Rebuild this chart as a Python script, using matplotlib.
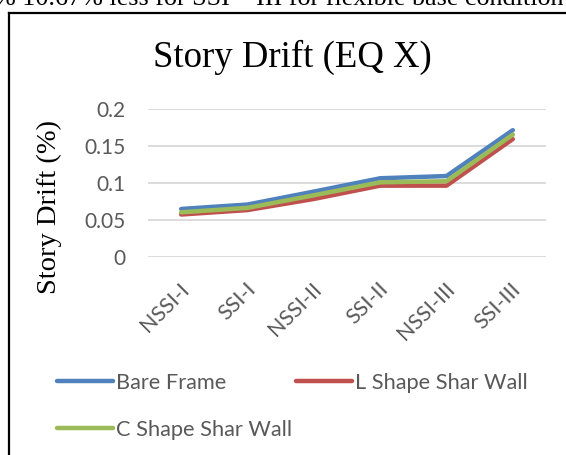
import matplotlib
matplotlib.use("Agg")
import matplotlib.pyplot as plt
from matplotlib.lines import Line2D
from matplotlib.transforms import ScaledTranslation

# data
categories = ["NSSI-I", "SSI-I", "NSSI-II", "SSI-II", "NSSI-III", "SSI-III"]
bare_frame = [0.0645, 0.0705, 0.088, 0.106, 0.109, 0.171]
l_shape = [0.057, 0.063, 0.078, 0.096, 0.096, 0.159]
c_shape = [0.060, 0.066, 0.083, 0.1005, 0.102, 0.165]
y_ticks = [0, 0.05, 0.1, 0.15, 0.2]
y_tick_labels = ["0", "0.05", "0.1", "0.15", "0.2"]

W, H = 566, 455
fig = plt.figure(figsize=(W / 100, H / 100), dpi=100)

# plot area in pixels: x 148..546, y 108.7..256.7
ax = fig.add_axes([148 / W, 1 - 256.7 / H, 398 / W, 148 / H])

xs = list(range(len(categories)))
lw = 3.2
h_bare, = ax.plot(xs, bare_frame, color="#4f81bd", lw=lw, solid_capstyle="round", label="Bare Frame")
h_l, = ax.plot(xs, l_shape, color="#c0504d", lw=lw, solid_capstyle="round", label="L Shape Shar Wall")
h_c, = ax.plot(xs, c_shape, color="#9bbb59", lw=lw, solid_capstyle="round", label="C Shape Shar Wall")

ax.set_xlim(-0.5, len(categories) - 0.5)
ax.set_ylim(0, 0.2)
ax.set_yticks(y_ticks)
ax.set_yticklabels(y_tick_labels)
ax.set_xticks(xs)
ax.set_xticklabels(categories, rotation=45, ha="right", va="center", rotation_mode="anchor")

for s in ax.spines.values():
    s.set_visible(False)
ax.grid(axis="y", color="#d9d9d9", lw=1.3)
ax.set_axisbelow(True)

tick_font = "Lato"
ax.tick_params(axis="y", length=0, pad=16, labelsize=15, labelcolor="#595959")
ax.tick_params(axis="x", length=0, pad=21, labelsize=15.5, labelcolor="#595959")
for lbl in ax.get_yticklabels() + ax.get_xticklabels():
    lbl.set_family(tick_font)
for lbl in ax.get_xticklabels():
    lbl.set_transform(lbl.get_transform() + ScaledTranslation(5 / 100, 0, fig.dpi_scale_trans))

ax.set_ylabel("Story Drift (%)", family="Liberation Serif", fontsize=20.5, color="black")
ax.yaxis.set_label_coords(-0.216, 0.339)

fig.text(292 / W, 1 - 66.5 / H, "Story Drift (EQ X)", family="Liberation Serif",
         fontsize=26.5, ha="center", va="baseline")

# legend: two entries on the first row, one on the second
leg_kw = dict(frameon=False, prop={"family": tick_font, "size": 15.7}, borderpad=0,
              borderaxespad=0, handlelength=2.55, handletextpad=0.16)
leg1 = fig.legend([h_bare, h_l], ["Bare Frame", "L Shape Shar Wall"], loc="center left",
                  bbox_to_anchor=(57 / W, 1 - 383 / H), ncol=2, columnspacing=3.2, **leg_kw)
leg2 = fig.legend([h_c], ["C Shape Shar Wall"], loc="center left",
                  bbox_to_anchor=(57 / W, 1 - 430 / H), **leg_kw)
for leg in (leg1, leg2):
    for t in leg.get_texts():
        t.set_color("#595959")

# chart border (left and top visible)
fig.add_artist(Line2D([9 / W, 9 / W], [0, 1 - 13 / H], color="black", lw=1.6))
fig.add_artist(Line2D([9 / W, 1], [1 - 13 / H, 1 - 13 / H], color="black", lw=1.6))

# body text cut off at the top of the image
fig.text(563 / W, 1 - 5 / H, "% 10.67% less for SSI \u2013 III for flexible base condition",
         family="Liberation Serif", fontsize=18.8, ha="right", va="baseline")

fig.savefig("out.png", dpi=100)
